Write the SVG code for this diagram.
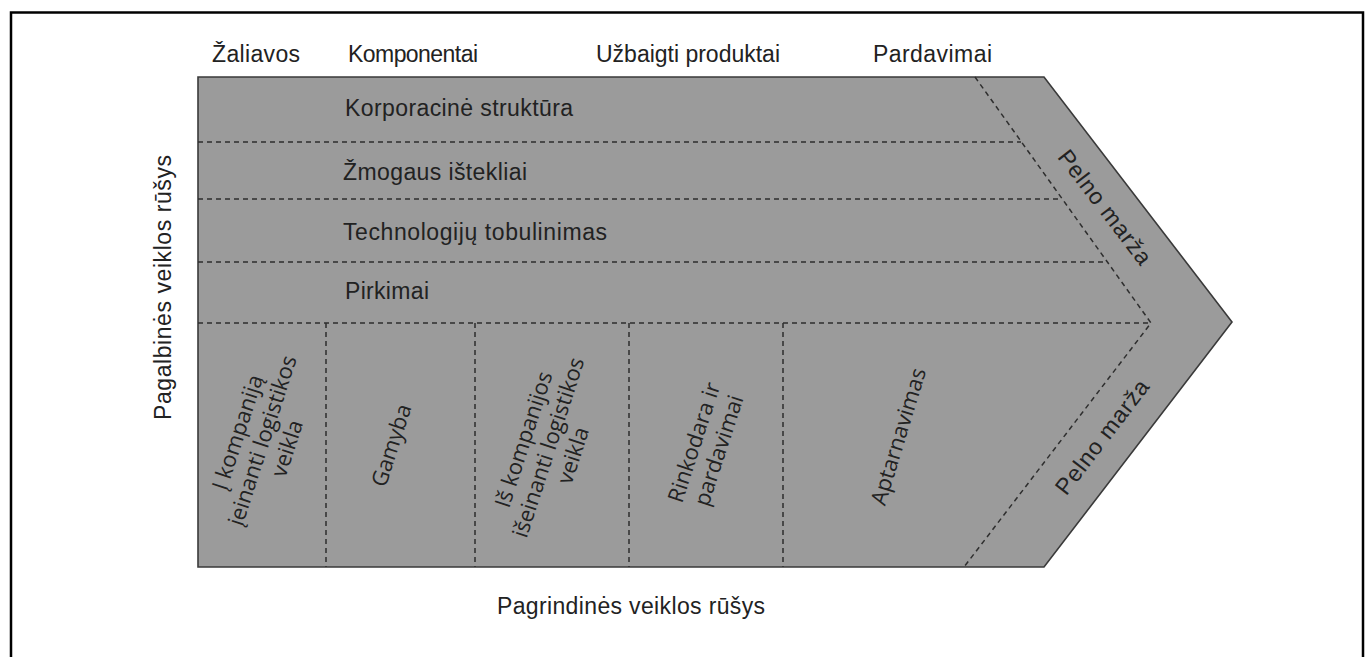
<svg xmlns="http://www.w3.org/2000/svg" width="1370" height="657" viewBox="0 0 1370 657">
  <style>
    .frame { fill: none; stroke: #000; stroke-width: 2.5; }
    .chain { fill: #9b9b9b; stroke: #3a3a3a; stroke-width: 1.6; stroke-linejoin: miter; }
    .dash { fill: none; stroke: #2e2e2e; stroke-width: 1.5; stroke-dasharray: 5 4; }
    .lbl { font-family: "Liberation Sans", Arial, sans-serif; font-size: 23px; fill: #222; }
    .col { font-family: "Open Sans", "Liberation Sans", sans-serif; font-size: 22px; fill: #222; text-anchor: middle; dominant-baseline: central; }
  </style>
  <rect width="1370" height="657" fill="#fff"/>
  <rect class="frame" x="11" y="12.5" width="1352" height="670"/>

  <!-- value chain arrow -->
  <g id="chain">
    <polygon class="chain" points="198,77 1044,77 1232,322 1044,567 198,567"/>
  </g>

  <!-- dividing lines -->
  <g id="connectors">
    <line class="dash" x1="198" y1="142" x2="1021" y2="142"/>
    <line class="dash" x1="198" y1="199" x2="1062" y2="199"/>
    <line class="dash" x1="198" y1="262" x2="1107" y2="262"/>
    <line class="dash" x1="198" y1="323" x2="1151" y2="323"/>
    <polyline class="dash" points="975,77 1151,323 964,567"/>
    <line class="dash" x1="326" y1="323" x2="326" y2="567"/>
    <line class="dash" x1="475" y1="323" x2="475" y2="567"/>
    <line class="dash" x1="629" y1="323" x2="629" y2="567"/>
    <line class="dash" x1="783" y1="323" x2="783" y2="567"/>
  </g>

  <!-- stage headings -->
  <g id="stages">
    <text class="lbl" x="212" y="62" textLength="88" lengthAdjust="spacing">Žaliavos</text>
    <text class="lbl" x="348" y="62" textLength="130" lengthAdjust="spacing">Komponentai</text>
    <text class="lbl" x="596" y="62" textLength="184" lengthAdjust="spacing">Užbaigti produktai</text>
    <text class="lbl" x="873" y="62" textLength="119" lengthAdjust="spacing">Pardavimai</text>
  </g>

  <!-- support activities -->
  <g id="support-corporate"><text class="lbl" x="345" y="116" textLength="228" lengthAdjust="spacing">Korporacinė struktūra</text></g>
  <g id="support-hr"><text class="lbl" x="343" y="180" textLength="184" lengthAdjust="spacing">Žmogaus ištekliai</text></g>
  <g id="support-tech"><text class="lbl" x="343" y="240" textLength="264" lengthAdjust="spacing">Technologijų tobulinimas</text></g>
  <g id="support-purchase"><text class="lbl" x="345" y="299" textLength="84" lengthAdjust="spacing">Pirkimai</text></g>

  <!-- primary activities -->
  <g id="primary-inbound" transform="translate(261,440) rotate(-72)">
    <text class="col"><tspan x="0" y="-26">Į kompaniją</tspan><tspan x="0" y="0">įeinanti logistikos</tspan><tspan x="0" y="26">veikla</tspan></text>
  </g>
  <g id="primary-operations" transform="translate(390,445) rotate(-72)">
    <text class="col" x="0" y="0">Gamyba</text>
  </g>
  <g id="primary-outbound" transform="translate(547,447) rotate(-72)">
    <text class="col"><tspan x="0" y="-26">Iš kompanijos</tspan><tspan x="0" y="0">išeinanti logistikos</tspan><tspan x="0" y="26">veikla</tspan></text>
  </g>
  <g id="primary-marketing" transform="translate(705,446) rotate(-72)">
    <text class="col"><tspan x="0" y="-13">Rinkodara ir</tspan><tspan x="0" y="13">pardavimai</tspan></text>
  </g>
  <g id="primary-service" transform="translate(897,436) rotate(-73)">
    <text class="col" x="0" y="0">Aptarnavimas</text>
  </g>

  <!-- margin -->
  <g id="margin-upper" transform="translate(1105,207) rotate(52.5)">
    <text class="lbl" x="-69" y="0" dominant-baseline="central" textLength="138" lengthAdjust="spacing">Pelno marža</text>
  </g>
  <g id="margin-lower" transform="translate(1102,437) rotate(-52.5)">
    <text class="lbl" x="-69" y="0" dominant-baseline="central" textLength="138" lengthAdjust="spacing">Pelno marža</text>
  </g>

  <!-- axis titles -->
  <g id="axis-support" transform="translate(171,288) rotate(-90)">
    <text class="lbl" x="-132" y="0" textLength="265" lengthAdjust="spacing">Pagalbinės veiklos rūšys</text>
  </g>
  <g id="axis-primary">
    <text class="lbl" x="497" y="614" textLength="268" lengthAdjust="spacing">Pagrindinės veiklos rūšys</text>
  </g>
</svg>
